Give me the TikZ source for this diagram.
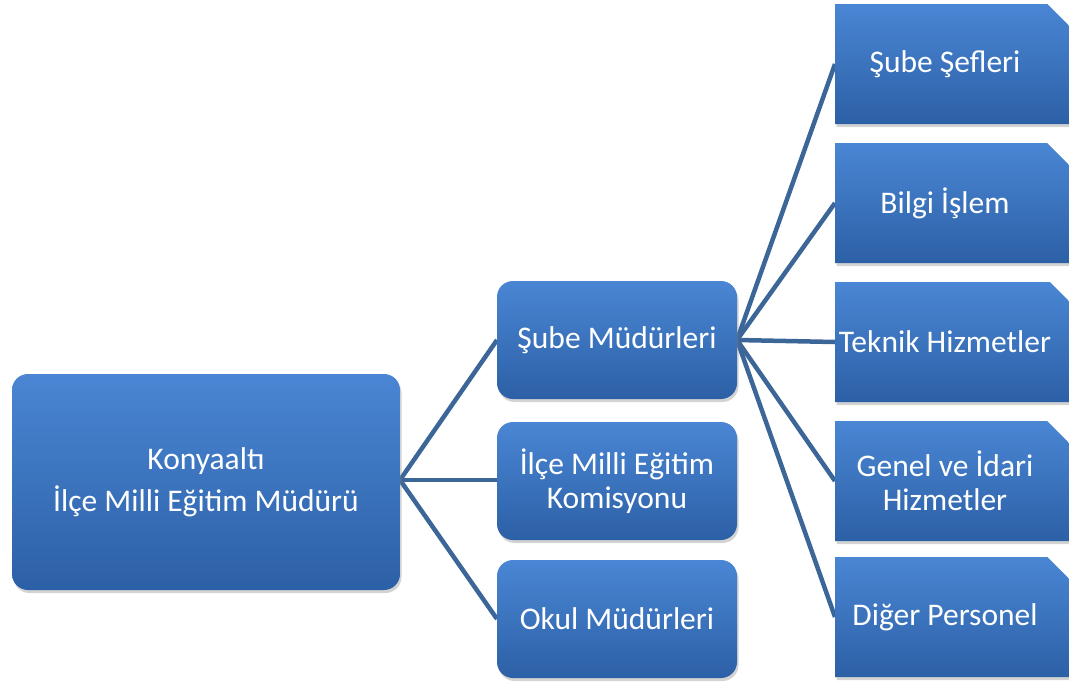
\documentclass[tikz,border=0pt]{standalone}
\usepackage{fontspec}
\setmainfont{Carlito}
\usetikzlibrary{shapes.misc,shadows}

\definecolor{boxtop}{RGB}{74,134,212}
\definecolor{boxbot}{RGB}{44,96,166}
\definecolor{linkblue}{RGB}{60,102,152}

\begin{document}
\begin{tikzpicture}[x=1pt,y=-1pt,
  box/.style={rounded corners=16pt,top color=boxtop,bottom color=boxbot,
    draw=none,text=white,align=center,inner sep=0pt,
    drop shadow={shadow xshift=1.5pt,shadow yshift=-3pt,opacity=0.35},
    font=\fontsize{31.5}{34}\selectfont},
  midbox/.style={box,minimum width=240pt,minimum height=118pt},
  unitbox/.style={box,rounded corners=0pt,chamfered rectangle,
    chamfered rectangle corners=north east,chamfered rectangle xsep=14pt,
    chamfered rectangle ysep=14pt,minimum width=240pt,minimum height=120pt},
  link/.style={draw=linkblue,line width=4.5pt}]
\useasboundingbox (0,0) rectangle (1069,683);
% links first, boxes on top
\coordinate (rootE) at (400,480);
\coordinate (subeE) at (737,340);
\draw[link] (rootE) -- (497,340);
\draw[link] (rootE) -- (497,480);
\draw[link] (rootE) -- (497,619);
\draw[link] (subeE) -- (835,64);
\draw[link] (subeE) -- (835,203);
\draw[link] (subeE) -- (835,342);
\draw[link] (subeE) -- (835,481);
\draw[link] (subeE) -- (835,617);
% root
\node[box,minimum width=388pt,minimum height=216pt] (root) at (206,482)
  {Konyaaltı\\[8pt]İlçe Milli Eğitim Müdürü};
% middle level
\node[midbox] (sube) at (617,340) {Şube Müdürleri};
\node[midbox] (komisyon) at (617,481) {İlçe Milli Eğitim\\Komisyonu};
\node[midbox] (okul) at (617,619) {Okul Müdürleri};
% units under sube
\node[unitbox] (sefler) at (955,64) {\hspace*{-20pt}Şube Şefleri};
\node[unitbox] (bilgi) at (955,203) {\hspace*{-20pt}Bilgi İşlem};
\node[unitbox] (teknik) at (955,342) {\hspace*{-20pt}Teknik Hizmetler};
\node[unitbox] (genel) at (955,481) {\hspace*{-20pt}Genel ve İdari\\\hspace*{-20pt}Hizmetler};
\node[unitbox] (diger) at (955,617) {\hspace*{-20pt}Diğer Personel};
\end{tikzpicture}
\end{document}
